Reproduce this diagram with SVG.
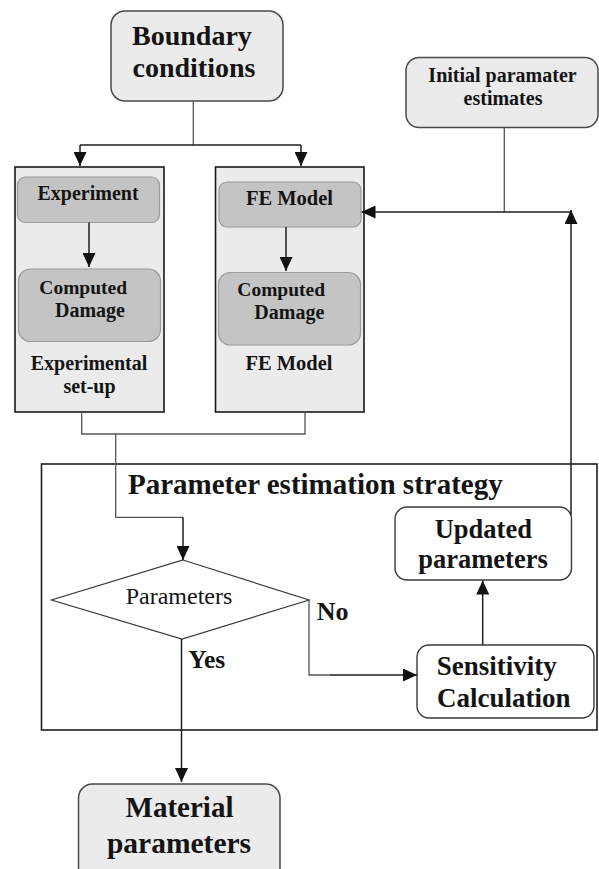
<svg xmlns="http://www.w3.org/2000/svg" width="599" height="869" viewBox="0 0 599 869">
<style>
text{font-family:"Liberation Serif","Times New Roman",serif;font-weight:bold;fill:#141414}
.m{text-anchor:middle}
.term{fill:#ebebeb;stroke:#4a4a4a;stroke-width:1.5}
.col{fill:#ebebeb;stroke:#1a1a1a;stroke-width:1.6}
.inner{fill:#c4c4c4;stroke:#9a9a9a;stroke-width:1.2}
.proc{fill:#ffffff;stroke:#3a3a3a;stroke-width:1.4}
.line{fill:none;stroke:#1e1e1e;stroke-width:1.5}
.thin{fill:none;stroke:#555;stroke-width:1.3}
</style>
<defs>
<marker id="ah" viewBox="0 0 14 13" refX="14" refY="6.5" markerWidth="14" markerHeight="13" markerUnits="userSpaceOnUse" orient="auto">
<path d="M0,0 L14,6.5 L0,13 Z" fill="#111"/>
</marker>
</defs>
<rect width="599" height="869" fill="#ffffff"/>

<g id="strategy">
<rect x="41.5" y="464" width="555.5" height="266" fill="none" stroke="#1e1e1e" stroke-width="1.6"/>
<text x="128" y="493.5" font-size="29">Parameter estimation strategy</text>
</g>

<g id="boundary">
<rect class="term" x="111" y="11" width="172" height="90" rx="14"/>
<text x="132" y="45" font-size="28">Boundary</text>
<text x="132.5" y="77" font-size="28">conditions</text>
</g>

<g id="initial">
<rect class="term" x="406" y="57.5" width="192" height="70" rx="13"/>
<text class="m" x="502.5" y="81.5" font-size="20">Initial paramater</text>
<text class="m" x="503" y="105" font-size="20">estimates</text>
</g>

<g id="experimental-setup">
<rect class="col" x="15" y="167" width="149" height="245"/>
<text class="m" x="89" y="370" font-size="20">Experimental</text>
<text class="m" x="89.5" y="392.5" font-size="20">set-up</text>
</g>
<g id="experiment">
<rect class="inner" x="17.5" y="177" width="142" height="45.5" rx="8"/>
<text class="m" x="88" y="200" font-size="20">Experiment</text>
</g>
<g id="computed-damage-exp">
<rect class="inner" x="18.5" y="269" width="142" height="72.5" rx="12"/>
<text x="39.3" y="294.3" font-size="19.5">Computed</text>
<text x="55" y="316.7" font-size="20">Damage</text>
</g>

<g id="fe-model-setup">
<rect class="col" x="215.5" y="167" width="148.5" height="245"/>
<text class="m" x="289" y="370" font-size="20.5">FE Model</text>
</g>
<g id="fe-model">
<rect class="inner" x="219" y="182" width="142" height="45" rx="8"/>
<text class="m" x="289.5" y="205" font-size="20.5">FE Model</text>
</g>
<g id="computed-damage-fe">
<rect class="inner" x="218.5" y="272.5" width="142" height="72.5" rx="12"/>
<text x="237.3" y="296" font-size="19.5">Computed</text>
<text x="254.3" y="319.3" font-size="20">Damage</text>
</g>

<g id="decision">
<polygon points="183,560 309,600 182,639 51.5,600" fill="#ffffff" stroke="#3a3a3a" stroke-width="1.2"/>
<text x="179" y="603.5" class="m" font-size="24" style="font-weight:normal">Parameters</text>
</g>

<g id="updated">
<rect class="proc" x="395" y="507" width="176.5" height="73" rx="12"/>
<text class="m" x="483.3" y="538.3" font-size="26.5">Updated</text>
<text class="m" x="483" y="568.3" font-size="26.5">parameters</text>
</g>

<g id="sensitivity">
<rect class="proc" x="417" y="645" width="177" height="73" rx="12"/>
<text x="436.7" y="675" font-size="27">Sensitivity</text>
<text x="437" y="706.7" font-size="27">Calculation</text>
</g>

<g id="material">
<rect class="term" x="78.5" y="784" width="201.5" height="100" rx="14"/>
<text class="m" x="179.5" y="816.7" font-size="29">Material</text>
<text class="m" x="179" y="853.3" font-size="29.5">parameters</text>
</g>

<g id="connectors">
<path class="thin" d="M193.3,101 V145"/>
<path class="line" d="M80,145 H301"/>
<path class="line" d="M80,145 V166" marker-end="url(#ah)"/>
<path class="line" d="M301,145 V166" marker-end="url(#ah)"/>
<path class="line" d="M89,222.5 V267" marker-end="url(#ah)"/>
<path class="line" d="M286,227 V271" marker-end="url(#ah)"/>
<path class="thin" d="M504.3,127.5 V212"/>
<path class="line" d="M571,212 H361.5" marker-end="url(#ah)"/>
<path class="line" d="M571,515 V210" marker-end="url(#ah)"/>
<path class="thin" d="M81.7,412 V434 H305 V412"/>
<path class="thin" d="M115.7,434 V517.3 H183"/>
<path class="line" d="M183,517.3 V560" marker-end="url(#ah)"/>
<path class="thin" d="M309,600 V675 H330"/>
<path class="line" d="M330,675 H417" marker-end="url(#ah)"/>
<path class="line" d="M482.7,645 V580.5" marker-end="url(#ah)"/>
<path class="line" d="M181.5,639 V782" marker-end="url(#ah)"/>
</g>
<g id="labels">
<text x="316.7" y="620" font-size="26">No</text>
<text x="188.3" y="668.3" font-size="25.5">Yes</text>
</g>
</svg>
